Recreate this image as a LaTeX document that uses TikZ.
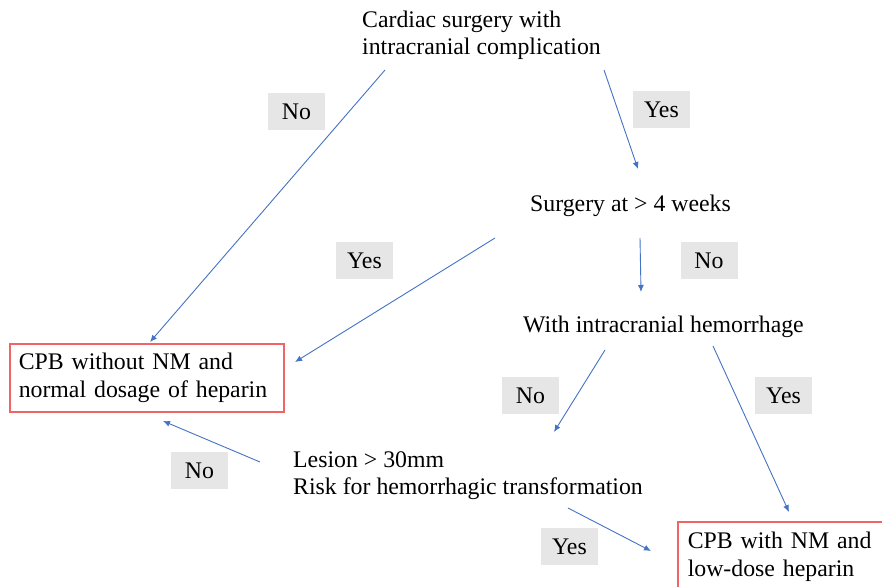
\documentclass[tikz,border=0pt]{standalone}
\usepackage{fontspec}
\setmainfont{Liberation Serif}
\usetikzlibrary{arrows.meta}
\definecolor{arrowblue}{RGB}{68,114,196}
\definecolor{boxred}{RGB}{240,100,100}
\definecolor{labelgray}{RGB}{231,230,230}
\tikzset{
  txt/.style={inner sep=0pt, anchor=base west, align=left, font=\fontsize{23.8}{27.5}\selectfont},
  lbl/.style={fill=labelgray, minimum width=57pt, minimum height=37pt, inner sep=0pt,
    text height=16pt, text depth=0pt, font=\fontsize{23.8}{27.5}\selectfont},
  conn/.style={draw=arrowblue, line width=0.9pt, -{Latex[length=7pt,width=6pt]}},
  outbox/.style={draw=boxred, line width=1.5pt, anchor=north west, align=left,
    inner ysep=0pt, font=\fontsize{23.8}{27.5}\selectfont}
}
\begin{document}
\begin{tikzpicture}[x=1pt,y=-1pt]
\useasboundingbox (0,0) rectangle (882,586);
\clip (0,0) rectangle (882,586);
% text nodes (base anchor of a two-line node = baseline of its last line)
\node[txt] (start) at (362,54.5) {Cardiac surgery with\\intracranial complication};
\node[txt] (surg) at (530,211) {Surgery at > 4 weeks};
\node[txt] (hem) at (523,332) {With intracranial hemorrhage};
\node[txt] (lesion) at (293,494.5) {Lesion > 30mm\\Risk for hemorrhagic transformation};
\node[outbox, inner xsep=9pt, text width=256pt, minimum height=68pt] (cpbA) at (9,343)
  {CPB without NM and\\normal dosage of heparin};
\node[outbox, inner xsep=10pt, text width=220pt, minimum height=70pt] (cpbB) at (677,521)
  {CPB with NM and\\low-dose heparin};
% labels
\node[lbl] (l1) at (296.5,111) {No};
\node[lbl] (l2) at (661.5,109) {Yes};
\node[lbl] (l3) at (364.5,260.5) {Yes};
\node[lbl] (l4) at (709,260.5) {No};
\node[lbl] (l5) at (530.5,395) {No};
\node[lbl] (l6) at (783.5,395) {Yes};
\node[lbl] (l7) at (199.5,470) {No};
\node[lbl] (l8) at (569.5,546.5) {Yes};
% connector end points
\coordinate (s1) at (385,70);   \coordinate (e1) at (150,342);
\coordinate (s2) at (604,70);   \coordinate (e2) at (638,169);
\coordinate (s3) at (495,238);  \coordinate (e3) at (295,362);
\coordinate (s4) at (640,238);  \coordinate (e4) at (641,292);
\coordinate (s5) at (605,350);  \coordinate (e5) at (554,432);
\coordinate (s6) at (713,346);  \coordinate (e6) at (789,512);
\coordinate (s7) at (260,462);  \coordinate (e7) at (163,421);
\coordinate (s8) at (568,508);  \coordinate (e8) at (651,551);
\draw[conn] (s1) -- (e1);
\draw[conn] (s2) -- (e2);
\draw[conn] (s3) -- (e3);
\draw[conn] (s4) -- (e4);
\draw[conn] (s5) -- (e5);
\draw[conn] (s6) -- (e6);
\draw[conn] (s7) -- (e7);
\draw[conn] (s8) -- (e8);
\end{tikzpicture}
\end{document}
